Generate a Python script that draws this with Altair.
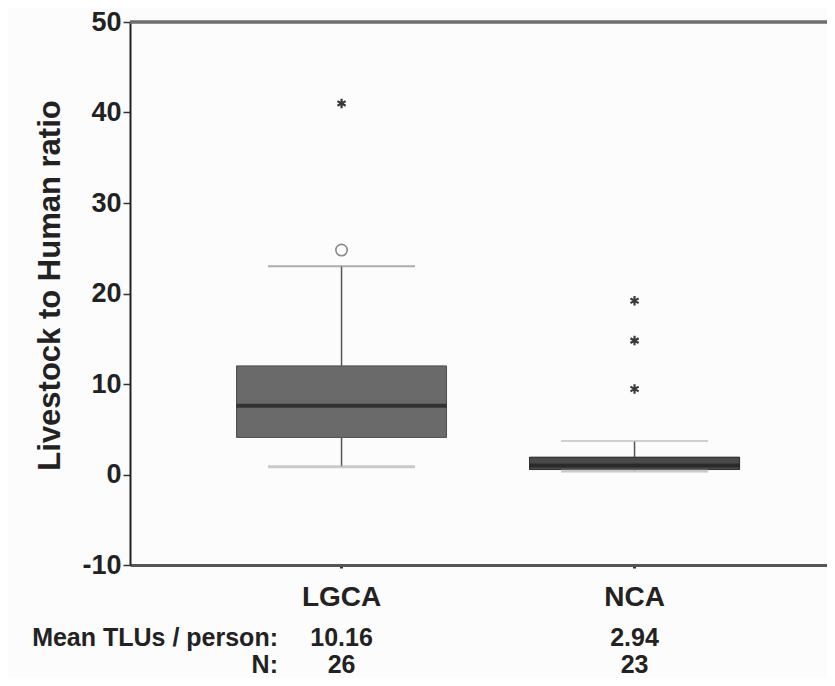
import altair as alt
import pandas as pd

# ---- data ----
groups = ["LGCA", "NCA"]
q1 = [4.1, 0.55]
median = [7.6, 1.0]
q3 = [12.0, 1.9]
whisker_low = [0.85, 0.4]
whisker_high = [23.0, 3.7]
mean_tlu = ["10.16", "2.94"]
n_obs = ["26", "23"]

outlier_group = ["LGCA", "LGCA", "NCA", "NCA", "NCA"]
outlier_value = [24.8, 41.0, 9.45, 14.8, 19.2]
outlier_kind = ["circle", "star", "star", "star", "star"]

row_label_mean = "Mean TLUs / person:"
row_label_n = "N:"

stats = pd.DataFrame({
    "group": groups, "q1": q1, "median": median, "q3": q3,
    "lo": whisker_low, "hi": whisker_high,
    "mean": mean_tlu, "n": n_obs,
})
outliers = pd.DataFrame({"group": outlier_group, "value": outlier_value, "kind": outlier_kind})

FONT = "Liberation Sans"
W, H = 697, 543

xscale = alt.Scale(domain=groups, paddingInner=0, paddingOuter=0.1894, align=0.586)
yscale = alt.Scale(domain=[-10, 50], nice=False, zero=False)

xenc = alt.X("group:N", scale=xscale,
             axis=alt.Axis(title=None, labelAngle=0, labelFont=FONT, labelFontSize=28,
                           labelFontWeight="bold", labelColor="#222", labelPadding=15,
                           tickSize=3, tickWidth=3, tickColor="#333",
                           domainColor="#555", domainWidth=3))
yaxis = alt.Axis(title="Livestock to Human ratio", values=[-10, 0, 10, 20, 30, 40, 50],
                 labelExpr="datum.value < 0 ? '-' + abs(datum.value) : '' + datum.value",
                 grid=False, labelFont=FONT, labelFontSize=27, labelFontWeight="bold",
                 labelColor="#222", labelPadding=2, tickSize=7, tickWidth=1.5,
                 tickColor="#333", domainColor="#222", domainWidth=2,
                 titleFont=FONT, titleFontSize=31, titleFontWeight="bold",
                 titleColor="#222", titleAngle=270, titleAlign="center",
                 titleBaseline="alphabetic", titleX=-71, titleY=263)

X = alt.X("group:N", scale=xscale)


def Y(field):
    return alt.Y(field, scale=yscale)


base = alt.Chart(stats)

box = base.mark_bar(size=210, color="#6a6a6a", stroke="#4d4d4d", strokeWidth=1).encode(
    x=xenc, y=alt.Y("q1:Q", scale=yscale, axis=yaxis), y2="q3:Q")

box_nca = base.transform_filter(alt.datum.group == "NCA").mark_bar(
    size=210, color="#4a4a4a", stroke="#333", strokeWidth=1).encode(
    x=X, y=Y("q1:Q"), y2="q3:Q")

stem_hi = base.mark_rule(color="#555", strokeWidth=1.5).encode(x=X, y=Y("q3:Q"), y2="hi:Q")
stem_lo = base.mark_rule(color="#555", strokeWidth=1.5).encode(x=X, y=Y("lo:Q"), y2="q1:Q")

cap_hi = base.mark_tick(size=147, thickness=2).encode(
    x=X, y=Y("hi:Q"),
    color=alt.condition(alt.datum.group == "LGCA", alt.value("#8a8a8a"), alt.value("#bdbdbd")))
cap_lo = base.mark_tick(size=147, thickness=3, color="#b5b5b5").encode(x=X, y=Y("lo:Q"))

med = base.mark_tick(size=210, thickness=4, color="#1c1c1c").encode(x=X, y=Y("median:Q"))

circ = alt.Chart(outliers).transform_filter(alt.datum.kind == "circle").mark_point(
    shape="circle", filled=False, size=130, stroke="#8a8a8a", strokeWidth=1.6, opacity=1).encode(
    x=X, y=Y("value:Q"))

ASTER = "M0,-1L0,1M-0.866,-0.5L0.866,0.5M-0.866,0.5L0.866,-0.5"
star = alt.Chart(outliers).transform_filter(alt.datum.kind == "star").mark_point(
    shape=ASTER, filled=False, size=90, stroke="#3a3a3a", strokeWidth=2.2, opacity=1).encode(
    x=X, y=Y("value:Q"))

top = base.mark_rule(color="#6e6e6e", strokeWidth=3).encode(
    x=alt.value(0), x2=alt.value(W), y=alt.value(0))

txt_style = dict(font=FONT, fontSize=25, fontWeight="bold", color="#222", baseline="alphabetic")
mean_txt = base.mark_text(align="center", **txt_style).encode(
    x=X, y=alt.value(624), text="mean:N")
n_txt = base.mark_text(align="center", **txt_style).encode(
    x=X, y=alt.value(651), text="n:N")
row1 = base.transform_filter(alt.datum.group == groups[0]).mark_text(
    align="right", text=row_label_mean, **txt_style).encode(x=alt.value(148), y=alt.value(624))
row2 = base.transform_filter(alt.datum.group == groups[0]).mark_text(
    align="right", text=row_label_n, **txt_style).encode(x=alt.value(148), y=alt.value(651))

chart = alt.layer(box, box_nca, stem_hi, stem_lo, cap_hi, cap_lo, med, circ, star, top,
                  mean_txt, n_txt, row1, row2).properties(
    width=W, height=H,
    autosize=alt.AutoSizeParams(type="none"),
    padding={"left": 122, "top": 14, "right": 0, "bottom": 113},
    background="#fcfcfc",
).configure_view(stroke=None)

chart.save("out.html", embed_options={"renderer": "svg", "actions": False})
